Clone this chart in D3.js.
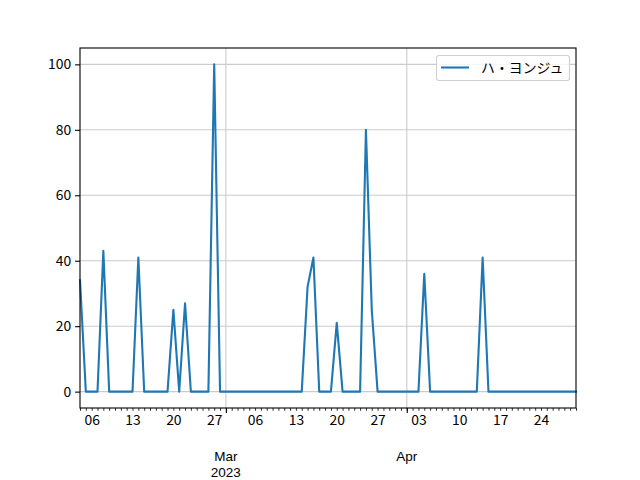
<!DOCTYPE html>
<html><head><meta charset="utf-8">
<script src="https://cdn.jsdelivr.net/npm/d3@7"></script>
<style>body{margin:0;background:#fff}text{font-family:"Noto Sans CJK JP","Noto Sans",sans-serif}</style>
</head><body><svg id="c" width="640" height="480"></svg>
<script>
const startDate = "2023-02-04";
const values = [34,0,0,0,43,0,0,0,0,0,41,0,0,0,0,0,25,0,27,0,0,0,0,100,0,0,0,0,0,0,0,0,0,0,0,0,0,0,0,32,41,0,0,0,21,0,0,0,0,80,25,0,0,0,0,0,0,0,0,36,0,0,0,0,0,0,0,0,0,41,0,0,0,0,0,0,0,0,0,0,0,0,0,0,0,0];
const seriesName = "ハ・ヨンジュ";
const yTicks = [0,20,40,60,80,100];
const monthTicks = ["2023-03-01","2023-04-01"];
const monthLabels = [["Mar","2023"],["Apr"]];

const parse = d3.utcParse("%Y-%m-%d");
const t0 = parse(startDate);
const data = values.map((v,i)=>({date:d3.utcDay.offset(t0,i), v}));
const svg = d3.select("#c");
const L=80,R=576,T=48,B=408;
const x = d3.scaleUtc().domain([data[0].date, data[data.length-1].date]).range([L,R]);
const y = d3.scaleLinear().domain([-5,105]).range([B,T]);
const fs = 13.9;

// grid
const g = svg.append("g");
g.selectAll(".hg").data(yTicks).enter().append("line")
 .attr("x1",L).attr("x2",R).attr("y1",d=>y(d)).attr("y2",d=>y(d))
 .attr("stroke","#cbcbcb").attr("stroke-width",1.1);
const mDates = monthTicks.map(parse);
g.selectAll(".vg").data(mDates).enter().append("line")
 .attr("x1",d=>x(d)).attr("x2",d=>x(d)).attr("y1",T).attr("y2",B)
 .attr("stroke","#cbcbcb").attr("stroke-width",1.1);

// line
svg.append("path").datum(data)
 .attr("d", d3.line().x(d=>x(d.date)).y(d=>y(d.v)))
 .attr("fill","none").attr("stroke","#1f77b4").attr("stroke-width",2.1)
 .attr("stroke-linejoin","round").attr("stroke-linecap","square");

// spines
svg.append("rect").attr("x",L).attr("y",T).attr("width",R-L).attr("height",B-T)
 .attr("fill","none").attr("stroke","#000").attr("stroke-width",1.1);

// minor x ticks (daily) with Monday labels
const days = d3.utcDay.range(x.domain()[0], d3.utcDay.offset(x.domain()[1],1));
const minorAxis = d3.axisBottom(x).tickValues(days).tickSize(2.8).tickPadding(4.5)
 .tickFormat(d => d.getUTCDay()===1 ? d3.utcFormat("%d")(d) : "");
const ma = svg.append("g").attr("transform",`translate(0,${B})`).call(minorAxis);
ma.select(".domain").remove();
ma.selectAll("line").attr("stroke-width",0.8);
ma.selectAll("text").attr("font-size",fs).attr("fill","#000").attr("dy","0.71em");

// major x ticks (months)
const majorAxis = d3.axisBottom(x).tickValues(mDates).tickSize(4.9).tickFormat("");
const mj = svg.append("g").attr("transform",`translate(0,${B})`).call(majorAxis);
mj.select(".domain").remove();
mj.selectAll("line").attr("stroke-width",1.1);
mDates.forEach((d,i)=>{
  monthLabels[i].forEach((s,j)=>{
    svg.append("text").attr("x",x(d)).attr("y",460.8+j*16.2).attr("text-anchor","middle")
      .style("font-family","'Liberation Sans',sans-serif")
      .attr("font-size",13.5).text(s);
  });
});

// y axis
const ya = svg.append("g").attr("transform",`translate(${L},0)`)
 .call(d3.axisLeft(y).tickValues(yTicks).tickSize(4.9).tickPadding(4));
ya.select(".domain").remove();
ya.selectAll("line").attr("stroke-width",1.1);
ya.selectAll("text").attr("font-size",fs).attr("fill","#000");

// legend
const lg = svg.append("g");
lg.append("rect").attr("x",436.5).attr("y",55.5).attr("width",133).attr("height",25).attr("rx",2.5)
 .attr("fill","#fff").attr("fill-opacity",0.8).attr("stroke","#d0d0d0").attr("stroke-width",1.1);
lg.append("line").attr("x1",441).attr("x2",469).attr("y1",67.5).attr("y2",67.5)
 .attr("stroke","#1f77b4").attr("stroke-width",2.1);
lg.append("text").attr("x",481).attr("y",73).attr("font-size",fs).text(seriesName);
</script></body></html>
